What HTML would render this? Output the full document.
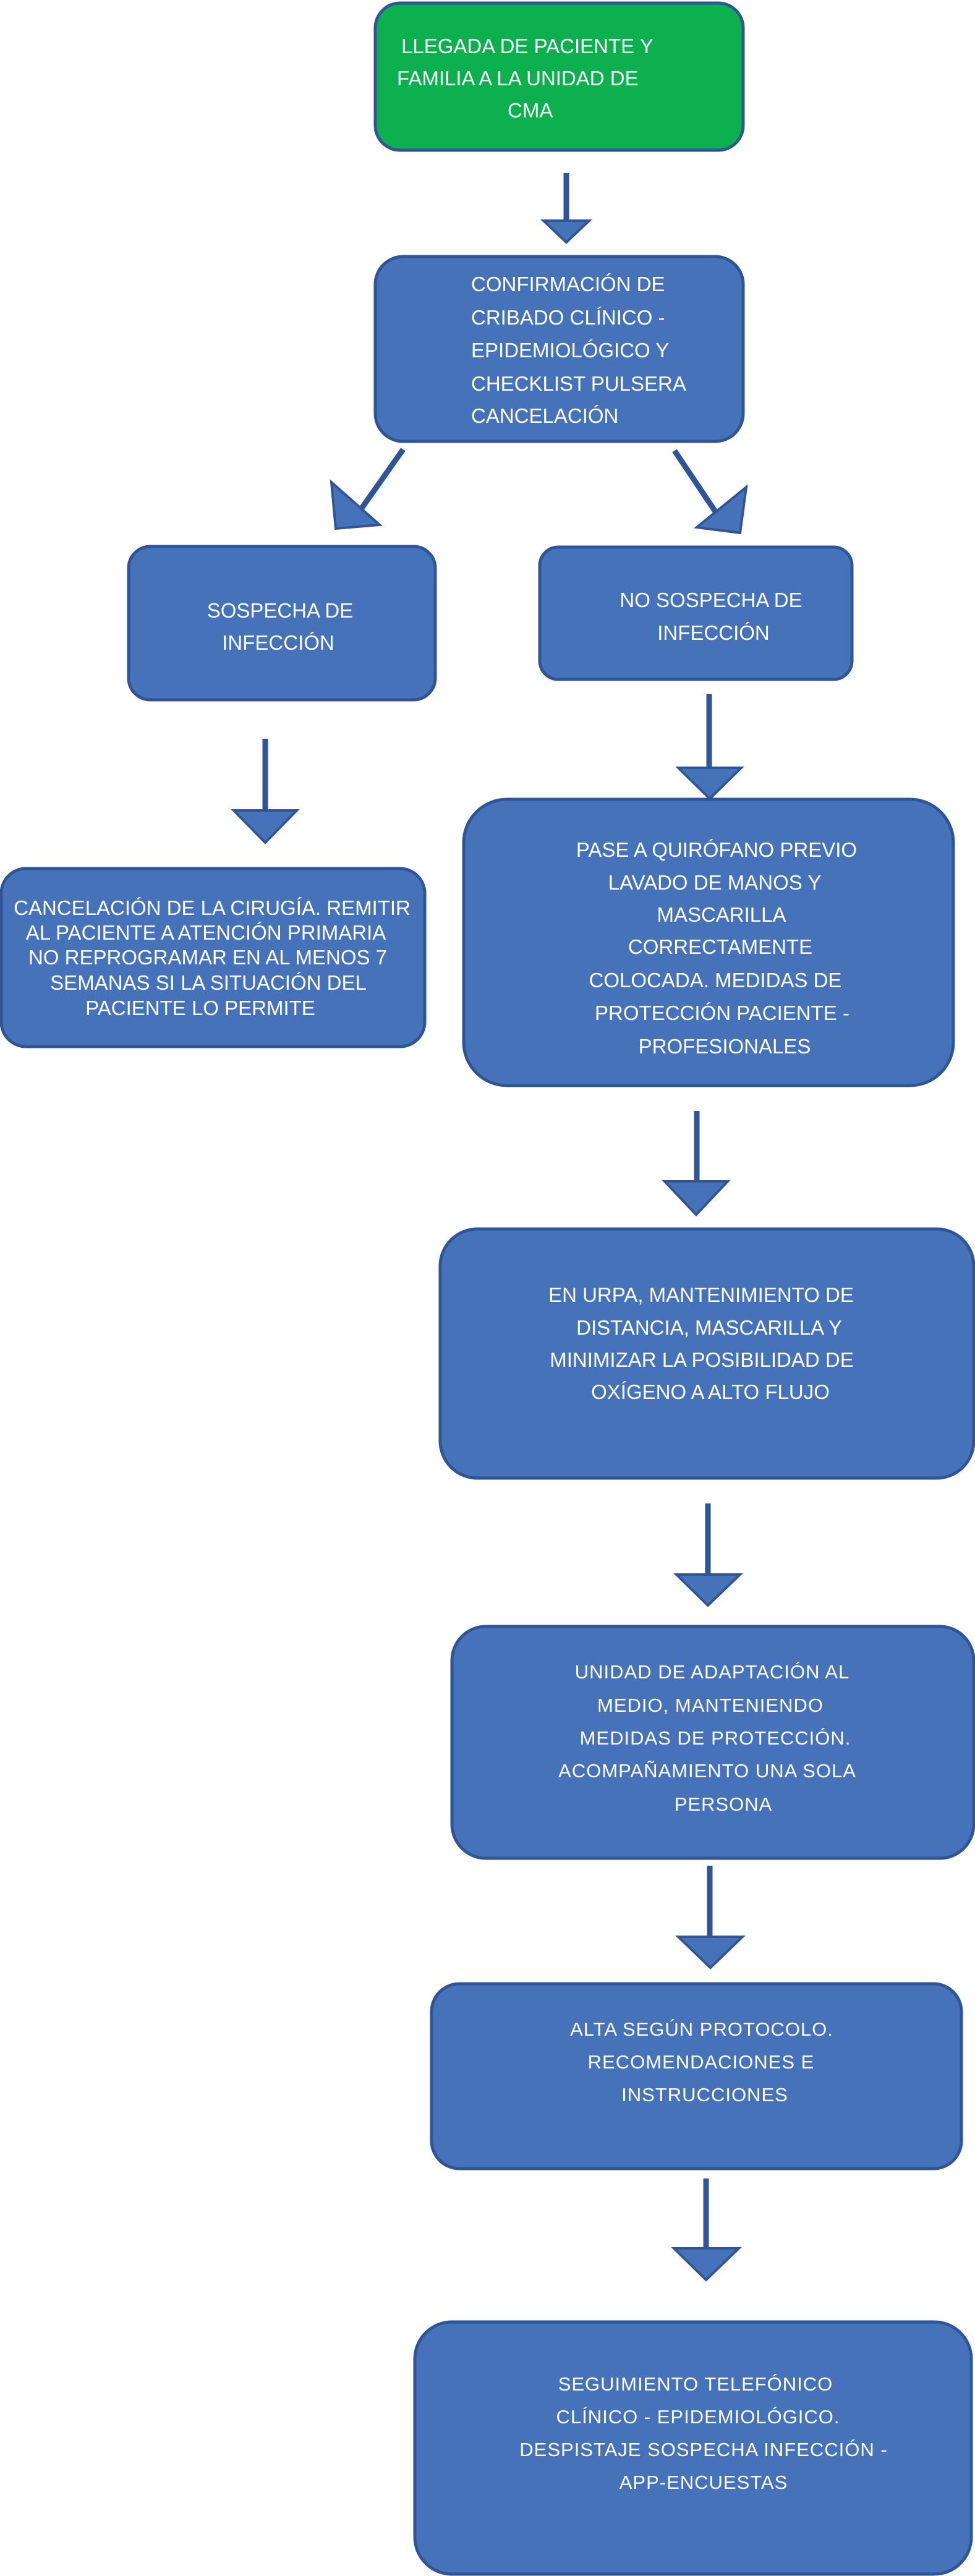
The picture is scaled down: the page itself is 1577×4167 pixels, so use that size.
<!DOCTYPE html>
<html><head><meta charset="utf-8"><style>
html,body{margin:0;padding:0;background:#fff;width:1577px;height:4167px;overflow:hidden}
svg{display:block}
.t{font-family:"Liberation Sans",Arial,sans-serif;font-size:33px;fill:#fff}
.b{font-family:"Liberation Sans",Arial,sans-serif;font-size:31px;letter-spacing:1px;fill:#fff}
.box{fill:#4672B9;stroke:#2F5597;stroke-width:5}
.ar{fill:#4672B9;stroke:#2F5597;stroke-width:4;stroke-linejoin:miter}
.sh{stroke:#2F5597;stroke-width:9}
</style></head><body>
<svg width="1577" height="4167" viewBox="0 0 1577 4167" xmlns="http://www.w3.org/2000/svg">
<!-- green box -->
<rect x="607" y="5" width="595" height="238" rx="40" fill="#0CB04F" stroke="#2F5597" stroke-width="5"/>
<text class="t" x="649" y="86">LLEGADA DE PACIENTE Y</text>
<text class="t" x="642" y="138">FAMILIA A LA UNIDAD DE</text>
<text class="t" x="821" y="190">CMA</text>
<!-- arrow 1 -->
<line class="sh" x1="916" y1="280" x2="916" y2="358"/>
<polygon class="ar" points="879,357 953,357 916,392"/>
<!-- box 2 -->
<rect class="box" x="607" y="415" width="595" height="299" rx="45"/>
<text class="t" x="762" y="471">CONFIRMACIÓN DE</text>
<text class="t" x="762" y="525">CRIBADO CLÍNICO -</text>
<text class="t" x="762" y="578">EPIDEMIOLÓGICO Y</text>
<text class="t" x="762" y="632">CHECKLIST PULSERA</text>
<text class="t" x="762" y="684">CANCELACIÓN</text>
<!-- diagonal arrows -->
<line class="sh" x1="652" y1="727" x2="585" y2="822"/>
<polygon class="ar" points="536,780 543,855 614,849"/>
<line class="sh" x1="1091" y1="729" x2="1160" y2="832"/>
<polygon class="ar" points="1207,788 1197,862 1127,853"/>
<!-- sospecha -->
<rect class="box" x="208" y="884" width="496" height="248" rx="35"/>
<text class="t" x="453" y="999" text-anchor="middle">SOSPECHA DE</text>
<text class="t" x="450" y="1051" text-anchor="middle">INFECCIÓN</text>
<!-- no sospecha -->
<rect class="box" x="873" y="885" width="505" height="214" rx="30"/>
<text class="t" x="1150" y="982" text-anchor="middle">NO SOSPECHA DE</text>
<text class="t" x="1154" y="1035" text-anchor="middle">INFECCIÓN</text>
<!-- left down arrow -->
<line class="sh" x1="429" y1="1195" x2="429" y2="1313"/>
<polygon class="ar" points="378,1311 480,1311 429,1363"/>
<!-- right down arrow -->
<line class="sh" x1="1147" y1="1123" x2="1147" y2="1244"/>
<polygon class="ar" points="1097,1242 1199,1242 1148,1292"/>
<!-- cancel box -->
<rect class="box" x="2" y="1405" width="685" height="288" rx="40"/>
<text class="t" x="343" y="1480" text-anchor="middle">CANCELACIÓN DE LA CIRUGÍA. REMITIR</text>
<text class="t" x="333" y="1520" text-anchor="middle">AL PACIENTE A ATENCIÓN PRIMARIA</text>
<text class="t" x="336" y="1560" text-anchor="middle">NO REPROGRAMAR EN AL MENOS 7</text>
<text class="t" x="337" y="1601" text-anchor="middle">SEMANAS SI LA SITUACIÓN DEL</text>
<text class="t" x="324" y="1642" text-anchor="middle">PACIENTE LO PERMITE</text>
<!-- pase box -->
<rect class="box" x="750" y="1293" width="792" height="463" rx="70"/>
<text class="t" x="1159" y="1386" text-anchor="middle">PASE A QUIRÓFANO PREVIO</text>
<text class="t" x="1156" y="1439" text-anchor="middle">LAVADO DE MANOS Y</text>
<text class="t" x="1167" y="1491" text-anchor="middle">MASCARILLA</text>
<text class="t" x="1165" y="1543" text-anchor="middle">CORRECTAMENTE</text>
<text class="t" x="1157" y="1597" text-anchor="middle">COLOCADA. MEDIDAS DE</text>
<text class="t" x="1168" y="1650" text-anchor="middle">PROTECCIÓN PACIENTE -</text>
<text class="t" x="1172" y="1704" text-anchor="middle">PROFESIONALES</text>
<!-- arrow -->
<line class="sh" x1="1127" y1="1797" x2="1127" y2="1913"/>
<polygon class="ar" points="1075,1911 1177,1911 1126,1965"/>
<!-- urpa box -->
<rect class="box" x="712" y="1988" width="863" height="403" rx="60"/>
<text class="t" x="1134" y="2106" text-anchor="middle">EN URPA, MANTENIMIENTO DE</text>
<text class="t" x="1147" y="2159" text-anchor="middle">DISTANCIA, MASCARILLA Y</text>
<text class="t" x="1135" y="2211" text-anchor="middle">MINIMIZAR LA POSIBILIDAD DE</text>
<text class="t" x="1149" y="2263" text-anchor="middle">OXÍGENO A ALTO FLUJO</text>
<!-- arrow -->
<line class="sh" x1="1145" y1="2432" x2="1145" y2="2549"/>
<polygon class="ar" points="1094,2547 1197,2547 1145,2597"/>
<!-- unidad box -->
<rect class="box" x="731" y="2631" width="844" height="375" rx="55"/>
<text class="b" x="1152" y="2715" text-anchor="middle">UNIDAD DE ADAPTACIÓN AL</text>
<text class="b" x="1149" y="2769" text-anchor="middle">MEDIO, MANTENIENDO</text>
<text class="b" x="1157" y="2822" text-anchor="middle">MEDIDAS DE PROTECCIÓN.</text>
<text class="b" x="1144" y="2875" text-anchor="middle">ACOMPAÑAMIENTO UNA SOLA</text>
<text class="b" x="1170" y="2929" text-anchor="middle">PERSONA</text>
<!-- arrow -->
<line class="sh" x1="1148" y1="3018" x2="1148" y2="3135"/>
<polygon class="ar" points="1097,3133 1201,3133 1149,3183"/>
<!-- alta box -->
<rect class="box" x="698" y="3209" width="857" height="299" rx="45"/>
<text class="b" x="1135" y="3293" text-anchor="middle">ALTA  SEGÚN PROTOCOLO.</text>
<text class="b" x="1134" y="3346" text-anchor="middle">RECOMENDACIONES E</text>
<text class="b" x="1140" y="3399" text-anchor="middle">INSTRUCCIONES</text>
<!-- arrow -->
<line class="sh" x1="1142" y1="3524" x2="1142" y2="3639"/>
<polygon class="ar" points="1090,3637 1195,3637 1142,3688"/>
<!-- last box -->
<rect class="box" x="671" y="3756" width="900" height="408" rx="60"/>
<text class="b" x="1125" y="3867" text-anchor="middle">SEGUIMIENTO TELEFÓNICO</text>
<text class="b" x="1129" y="3920" text-anchor="middle">CLÍNICO - EPIDEMIOLÓGICO.</text>
<text class="b" x="1138" y="3973" text-anchor="middle">DESPISTAJE SOSPECHA  INFECCIÓN -</text>
<text class="b" x="1138" y="4026" text-anchor="middle">APP-ENCUESTAS</text>
</svg>
</body></html>
